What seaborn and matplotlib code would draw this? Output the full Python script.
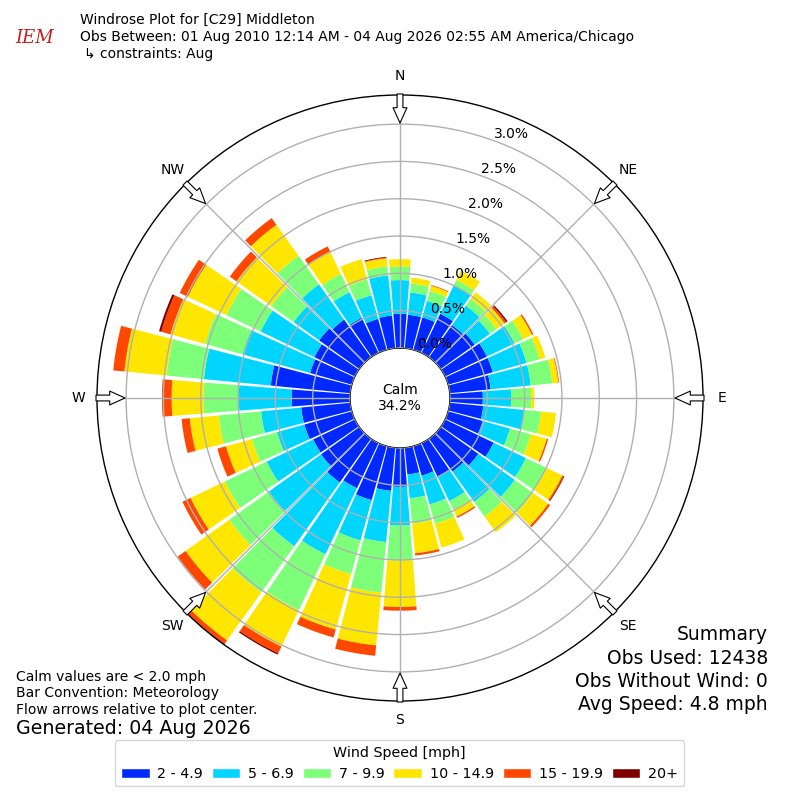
import numpy as np
import pandas as pd
import matplotlib
matplotlib.use("Agg")
import matplotlib.pyplot as plt
from matplotlib.patches import Patch
import seaborn as sns

# wind directions (deg, where the wind comes from)
directions = list(range(0, 360, 10))
speed_bins = ["2 - 4.9", "5 - 6.9", "7 - 9.9", "10 - 14.9", "15 - 19.9", "20+"]

# percent of observations per direction, one list per speed bin
speed_2_5 = [0.46, 0.45, 0.45, 0.58, 0.53, 0.56, 0.62, 0.62, 0.55, 0.44, 0.45, 0.48,
             0.72, 0.62, 0.54, 0.50, 0.41, 0.36, 0.52, 0.58, 0.75, 0.67, 0.72, 0.63,
             0.62, 0.66, 0.66, 0.78, 1.07, 0.58, 0.60, 0.66, 0.62, 0.52, 0.43, 0.44]
speed_5_7 = [0.45, 0.30, 0.23, 0.42, 0.32, 0.25, 0.41, 0.47, 0.54, 0.38, 0.56, 0.38,
             0.48, 0.60, 0.50, 0.36, 0.40, 0.32, 0.52, 0.69, 0.56, 0.98, 1.05, 0.86,
             0.69, 0.38, 0.54, 0.71, 0.90, 0.94, 0.80, 0.42, 0.58, 0.38, 0.33, 0.54]
speed_7_10 = [0.18, 0.12, 0.14, 0.08, 0.11, 0.11, 0.13, 0.18, 0.29, 0.27, 0.22, 0.29,
              0.31, 0.30, 0.24, 0.13, 0.27, 0.34, 0.47, 0.68, 0.47, 0.83, 0.76, 0.65,
              0.62, 0.35, 0.57, 0.47, 0.50, 0.52, 0.51, 0.37, 0.47, 0.27, 0.22, 0.12]
speed_10_15 = [0.10, 0.08, 0.07, 0.14, 0.11, 0.13, 0.13, 0.08, 0.08, 0.04, 0.20, 0.22,
               0.23, 0.25, 0.26, 0.10, 0.33, 0.40, 0.62, 0.71, 0.77, 0.54, 0.79, 0.72,
               0.51, 0.36, 0.39, 0.43, 0.57, 0.48, 0.57, 0.57, 0.51, 0.33, 0.28, 0.11]
speed_15_20 = [0.00, 0.00, 0.01, 0.00, 0.00, 0.03, 0.02, 0.00, 0.01, 0.00, 0.00, 0.02,
               0.02, 0.03, 0.00, 0.02, 0.00, 0.03, 0.05, 0.14, 0.11, 0.10, 0.06, 0.13,
               0.12, 0.12, 0.11, 0.13, 0.15, 0.13, 0.12, 0.11, 0.11, 0.08, 0.00, 0.01]
speed_20p = [0.00, 0.00, 0.00, 0.00, 0.00, 0.02, 0.00, 0.00, 0.00, 0.00, 0.00, 0.00,
             0.01, 0.00, 0.00, 0.00, 0.00, 0.00, 0.00, 0.00, 0.00, 0.02, 0.01, 0.00,
             0.00, 0.00, 0.00, 0.00, 0.00, 0.03, 0.00, 0.00, 0.00, 0.00, 0.00, 0.01]

calm_pct = 34.2
rings = [0.0, 0.5, 1.0, 1.5, 2.0, 2.5, 3.0]
compass = ["N", "NE", "E", "SE", "S", "SW", "W", "NW"]
title_lines = ["Windrose Plot for [C29] Middleton",
               "Obs Between: 01 Aug 2010 12:14 AM - 04 Aug 2026 02:55 AM America/Chicago",
               "\u21b3 constraints: Aug"]
notes = ["Calm values are < 2.0 mph", "Bar Convention: Meteorology",
         "Flow arrows relative to plot center."]
generated = "Generated: 04 Aug 2026"
summary = ["Summary", "Obs Used: 12438", "Obs Without Wind: 0", "Avg Speed: 4.8 mph"]

sns.set_style("white", rc={"text.color": "black", "axes.edgecolor": "black"})
plt.rcParams["font.family"] = ["DejaVu Sans"]

df = pd.DataFrame(dict(zip(speed_bins, [speed_2_5, speed_5_7, speed_7_10,
                                        speed_10_15, speed_15_20, speed_20p])),
                  index=directions)
palette = sns.color_palette(plt.get_cmap("jet")(np.linspace(0, 1, 7)[1:]))

fig = plt.figure(figsize=(8, 8), dpi=100)
ax = fig.add_axes([97 / 800, 99 / 800, 606 / 800, 606 / 800], projection="polar")
ax.set_theta_zero_location("N")
ax.set_theta_direction(-1)

theta = np.deg2rad(df.index.values)
bottom = np.zeros(len(df))
for name, color in zip(speed_bins, palette):
    ax.bar(theta, df[name].values, width=np.deg2rad(9), bottom=bottom,
           color=color, linewidth=0, zorder=1)
    bottom += df[name].values

rmax = bottom.max()
px = (rmax + 0.67) / 303.0  # data units per pixel
ax.set_ylim(0, rmax)
ax.set_rorigin(-0.67)

ax.set_xticks(np.deg2rad(np.arange(0, 360, 45)))
ax.set_xticklabels([])
ax.set_yticks(rings)
ax.set_yticklabels([])
ax.grid(True, color="#b0b0b0", linewidth=1)
ax.set_axisbelow(False)
for sp in ax.spines.values():
    sp.set_color("black")
    sp.set_linewidth(1)

for r in rings:
    ax.text(np.deg2rad(20), r, f"{r:.1f}%", ha="left", va="bottom", fontsize=10)

ax.text(0.5, 0.5, f"Calm\n{calm_pct:.1f}%", transform=ax.transAxes,
        ha="center", va="center", fontsize=10, linespacing=1.25)

for i, lab in enumerate(compass):
    a = np.deg2rad(i * 45)
    ax.text(a, rmax + 19 * px, lab, ha="center", va="center", fontsize=10)
    ax.annotate("", xy=(a, rmax - 28 * px), xytext=(a, rmax + 1 * px),
                arrowprops=dict(arrowstyle="simple,head_length=1.1,head_width=1.0,tail_width=0.42",
                                fc="white", ec="black", lw=0.8, shrinkA=0, shrinkB=0),
                annotation_clip=False, zorder=5)

# header
fig.text(35 / 800, 1 - 38 / 800, "IEM", color="#c81e1e", fontsize=13,
         family="DejaVu Serif", style="italic", ha="center", va="center")
for i, line in enumerate(title_lines):
    fig.text((80 if i < 2 else 84) / 800, 1 - (20 + 17 * i) / 800, line,
             fontsize=10, va="center")

# footer texts
for i, line in enumerate(notes):
    fig.text(16 / 800, 1 - (677 + 16.5 * i) / 800, line, fontsize=10, va="center")
fig.text(16 / 800, 1 - 729 / 800, generated, fontsize=13.7, va="center")
for i, line in enumerate(summary):
    fig.text(768 / 800, 1 - (635 + 23.3 * i) / 800, line, fontsize=13.5,
             ha="right", va="center")

handles = [Patch(facecolor=c, label=l) for l, c in zip(speed_bins, palette)]
fig.legend(handles=handles, loc="lower center", bbox_to_anchor=(0.4995, 0.008),
           ncol=6, title="Wind Speed [mph]", fontsize=10.3, title_fontsize=10.3,
           handlelength=2.0, handleheight=0.7, handletextpad=0.55,
           columnspacing=0.6, frameon=True)

fig.savefig("out.png", dpi=100)
